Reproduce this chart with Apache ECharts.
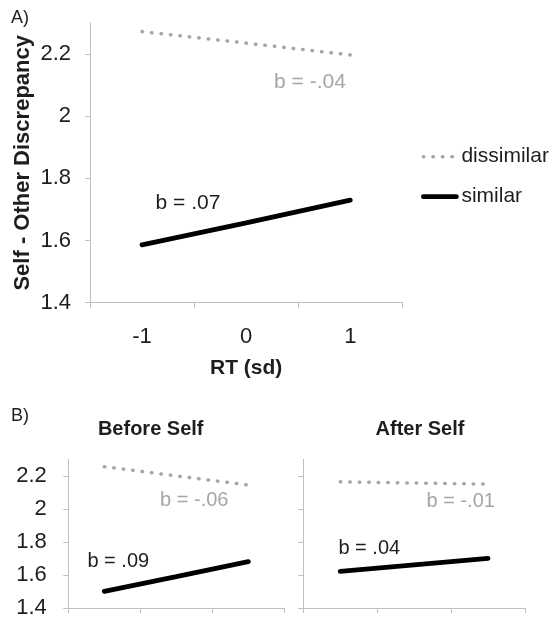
<!DOCTYPE html>
<html>
<head>
<meta charset="utf-8">
<script src="https://cdn.jsdelivr.net/npm/echarts@6/dist/echarts.min.js"></script>
<style>
html,body{margin:0;padding:0;background:#fff;}
#chart{width:554px;height:619px;}
</style>
</head>
<body>
<div id="chart"></div>
<script>
// ---- data ----
var categories = ['-1', '0', '1'];
var yTicks = [1.4, 1.6, 1.8, 2.0, 2.2];
var seriesNames = ['dissimilar', 'similar'];
// Panel A
var aDissimilar = [2.272, 2.235, 2.197];
var aSimilar = [1.586, 1.657, 1.730];
// Panel B - Before Self
var beforeDissimilar = [2.256, 2.200, 2.145];
var beforeSimilar = [1.501, 1.590, 1.681];
// Panel B - After Self
var afterDissimilar = [2.164, 2.157, 2.150];
var afterSimilar = [1.622, 1.661, 1.700];
// slope annotations
var slopeText = {
  aDis: 'b = -.04', aSim: 'b = .07',
  bDis: 'b = -.06', bSim: 'b = .09',
  cDis: 'b = -.01', cSim: 'b = .04'
};

var FONT = "'Liberation Sans', Arial, Helvetica, sans-serif";
var AXIS_COLOR = '#bfbfbf';
var TEXT_COLOR = '#1e1e1e';
var GRAY = '#a6a6a6';

var chart = echarts.init(document.getElementById('chart'), null, {renderer: 'canvas'});

function xAxis(gridIndex, showLabels) {
  return {
    type: 'category', gridIndex: gridIndex, data: categories, boundaryGap: true,
    axisLine: {lineStyle: {color: AXIS_COLOR, width: 1}},
    axisTick: {show: true, length: 5, lineStyle: {color: AXIS_COLOR}, alignWithLabel: false},
    axisLabel: {show: showLabels, fontSize: 22, color: TEXT_COLOR, fontFamily: FONT, margin: 23},
    splitLine: {show: false}
  };
}
function yAxis(gridIndex, showLabels, margin) {
  return {
    type: 'value', gridIndex: gridIndex, min: 1.4, max: 2.3,
    axisLine: {show: true, lineStyle: {color: AXIS_COLOR, width: 1}},
    axisTick: {show: true, length: 5, lineStyle: {color: AXIS_COLOR}, customValues: yTicks},
    axisLabel: {show: showLabels, fontSize: 22, color: TEXT_COLOR, fontFamily: FONT, margin: margin,
      customValues: yTicks},
    splitLine: {show: false}
  };
}
function dotted(name, data, idx) {
  return {
    name: name, type: 'line', xAxisIndex: idx, yAxisIndex: idx, data: data,
    symbol: 'none', silent: true,
    lineStyle: {color: GRAY, width: 3.5, type: [0.5, 9], cap: 'round'},
    itemStyle: {color: GRAY}
  };
}
function solid(name, data, idx) {
  return {
    name: name, type: 'line', xAxisIndex: idx, yAxisIndex: idx, data: data,
    symbol: 'none', silent: true,
    lineStyle: {color: '#000', width: 4.8, cap: 'round'},
    itemStyle: {color: '#000'}
  };
}
function txt(x, y, s, opt) {
  opt = opt || {};
  return {
    type: 'text', x: x, y: y, silent: true,
    style: {
      text: s, fill: opt.color || TEXT_COLOR,
      font: (opt.bold ? 'bold ' : '') + (opt.size || 21) + 'px ' + FONT,
      align: opt.align || 'center', verticalAlign: 'middle'
    }
  };
}

var option = {
  animation: false,
  backgroundColor: '#fff',
  textStyle: {fontFamily: FONT},
  grid: [
    {left: 90, right: 151.7, top: 22.9, bottom: 316.3, containLabel: false},
    {left: 68.3, right: 269.7, top: 459.4, bottom: 11, containLabel: false},
    {left: 303.3, right: 29, top: 459.4, bottom: 11, containLabel: false}
  ],
  xAxis: [
    Object.assign(xAxis(0, true), {
      name: 'RT (sd)', nameLocation: 'middle', nameGap: 55, nameMoveOverlap: false,
      nameTextStyle: {fontSize: 21, fontWeight: 'bold', color: TEXT_COLOR, fontFamily: FONT}
    }),
    xAxis(1, false),
    xAxis(2, false)
  ],
  yAxis: [
    Object.assign(yAxis(0, true, 19), {
      name: 'Self - Other Discrepancy', nameLocation: 'middle', nameGap: 56, nameMoveOverlap: false,
      nameTextStyle: {fontSize: 22, fontWeight: 'bold', color: TEXT_COLOR, fontFamily: FONT}
    }),
    yAxis(1, true, 21.5),
    yAxis(2, false, 20)
  ],
  legend: {
    orient: 'vertical', left: 421, top: 145.7, padding: 0,
    itemWidth: 33, itemHeight: 14, itemGap: 18,
    data: [
      {name: seriesNames[0], lineStyle: {width: 3.5}},
      {name: seriesNames[1], lineStyle: {width: 4.8}}
    ],
    itemStyle: {opacity: 0},
    textStyle: {fontSize: 21, color: TEXT_COLOR, fontFamily: FONT, lineHeight: 22},
    selectedMode: false
  },
  series: [
    dotted(seriesNames[0], aDissimilar, 0),
    solid(seriesNames[1], aSimilar, 0),
    dotted(seriesNames[0], beforeDissimilar, 1),
    solid(seriesNames[1], beforeSimilar, 1),
    dotted(seriesNames[0], afterDissimilar, 2),
    solid(seriesNames[1], afterSimilar, 2)
  ],
  graphic: [
    txt(11, 18, 'A)', {size: 18, align: 'left'}),
    txt(11, 416.5, 'B)', {size: 18, align: 'left'}),
    txt(150.7, 429, 'Before Self', {bold: true, size: 20}),
    txt(420, 429, 'After Self', {bold: true, size: 20}),
    txt(310, 82, slopeText.aDis, {color: GRAY}),
    txt(188, 203, slopeText.aSim, {}),
    txt(194.3, 500, slopeText.bDis, {color: GRAY, size: 20}),
    txt(118.3, 561.7, slopeText.bSim, {size: 20}),
    txt(460.7, 501.7, slopeText.cDis, {color: GRAY, size: 20}),
    txt(369.3, 548.3, slopeText.cSim, {size: 20})
  ]
};
chart.setOption(option);
</script>
</body>
</html>
